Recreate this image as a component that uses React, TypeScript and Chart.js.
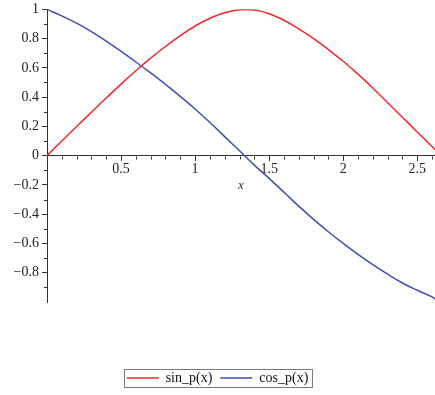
import { useEffect, useRef } from "react";
import { Chart, registerables } from "chart.js";

Chart.register(...registerables);

// x positions where the curves were read
const xValues = [0, 0.1, 0.2, 0.3, 0.4, 0.5, 0.6, 0.7, 0.8, 0.9, 1.0, 1.1, 1.2, 1.3, 1.4, 1.5, 1.6, 1.7, 1.8, 1.9, 2.0, 2.1, 2.2, 2.3, 2.4, 2.5, 2.6, 2.62];
const sinP = [0, 0.1, 0.199, 0.297, 0.394, 0.489, 0.58, 0.666, 0.746, 0.82, 0.886, 0.939, 0.976, 0.997, 0.995, 0.97, 0.925, 0.866, 0.8, 0.725, 0.645, 0.557, 0.462, 0.362, 0.262, 0.162, 0.062, 0.042];
const cosP = [1, 0.955, 0.905, 0.847, 0.782, 0.712, 0.64, 0.565, 0.487, 0.405, 0.319, 0.226, 0.13, 0.033, -0.065, -0.155, -0.25, -0.345, -0.435, -0.52, -0.6, -0.675, -0.745, -0.81, -0.87, -0.92, -0.965, -0.978];

const seriesNames = ["sin_p(x)", "cos_p(x)"];
const seriesColors = ["#f02828", "#3f4fb4"];

const xMajorTicks = [0.5, 1, 1.5, 2, 2.5];
const yMajorTicks = [-0.8, -0.6, -0.4, -0.2, 0, 0.2, 0.4, 0.6, 0.8, 1];

const X_MIN = 0;
const X_MAX = 2.62;
const Y_MIN = -1;
const Y_MAX = 1;

const tenth = (v: number) => Math.round(v * 10);
const isMajorX = (v: number) => xMajorTicks.some((t) => tenth(t) === tenth(v));
const isMajorY = (v: number) => yMajorTicks.some((t) => tenth(t) === tenth(v));
const fmt = (v: number) => {
  const r = Math.round(v * 10) / 10;
  return r < 0 ? "\u2212" + String(-r) : String(r);
};

const AXIS_COLOR = "#333333";
const FONT = '"Liberation Serif", "Times New Roman", serif';

const minorTicksPlugin = {
  id: "minorTicks",
  afterDraw(chart: any) {
    const ctx = chart.ctx;
    const xs = chart.scales.x;
    const ys = chart.scales.y;
    const y0 = Math.round(ys.getPixelForValue(0)) + 0.5;
    const left = chart.chartArea.left;
    ctx.save();
    ctx.strokeStyle = AXIS_COLOR;
    ctx.lineWidth = 1;
    ctx.beginPath();
    for (const t of xs.ticks) {
      if (isMajorX(t.value) || tenth(t.value) === 0) continue;
      const px = Math.round(xs.getPixelForValue(t.value)) + 0.5;
      ctx.moveTo(px, y0);
      ctx.lineTo(px, y0 + 3);
    }
    for (const t of ys.ticks) {
      if (isMajorY(t.value) || tenth(t.value) === -10) continue;
      const py = Math.round(ys.getPixelForValue(t.value)) + 0.5;
      ctx.moveTo(left - 3, py);
      ctx.lineTo(left, py);
    }
    ctx.stroke();
    // legend frame
    const lg = chart.legend;
    const hb = lg && lg.legendHitBoxes;
    if (hb && hb.length) {
      const l = hb[0].left - 3;
      const last = hb[hb.length - 1];
      const r = last.left + last.width + 3;
      const top = hb[0].top - 2;
      const bottom = hb[0].top + hb[0].height + 2;
      ctx.strokeStyle = "#7a7a7a";
      ctx.strokeRect(Math.round(l) + 0.5, Math.round(top) + 0.5, Math.round(r - l), Math.round(bottom - top));
    }
    ctx.restore();
  },
};

export default function App() {
  const ref = useRef<HTMLCanvasElement | null>(null);

  useEffect(() => {
    if (!ref.current) return;
    Chart.defaults.font.family = FONT;
    const chart = new Chart(ref.current, {
      type: "line",
      data: {
        datasets: [
          {
            label: seriesNames[0],
            data: xValues.map((x, i) => ({ x, y: sinP[i] })),
            borderColor: seriesColors[0],
            backgroundColor: seriesColors[0],
            borderWidth: 1.5,
            pointRadius: 0,
            tension: 0.4,
          },
          {
            label: seriesNames[1],
            data: xValues.map((x, i) => ({ x, y: cosP[i] })),
            borderColor: seriesColors[1],
            backgroundColor: seriesColors[1],
            borderWidth: 1.5,
            pointRadius: 0,
            tension: 0.4,
          },
        ],
      },
      options: {
        responsive: false,
        animation: false,
        layout: { padding: 0 },
        plugins: {
          tooltip: { enabled: false },
          legend: {
            position: "bottom",
            title: { display: true, text: "", padding: { top: 49, bottom: 0 }, font: { size: 10, lineHeight: 1.2 } },
            labels: {
              boxWidth: 32,
              boxHeight: 0,
              padding: 8,
              color: "#111",
              font: { family: FONT, size: 14 },
            },
          },
        },
        scales: {
          x: {
            type: "linear",
            position: { y: 0 } as any,
            min: X_MIN,
            max: X_MAX,
            border: { display: true, color: AXIS_COLOR, width: 1 },
            grid: {
              drawOnChartArea: false,
              drawTicks: true,
              tickLength: 5,
              tickColor: (c: any) => (c.tick && isMajorX(c.tick.value) ? AXIS_COLOR : "rgba(0,0,0,0)"),
            },
            ticks: {
              stepSize: 0.1,
              autoSkip: false,
              includeBounds: false,
              maxRotation: 0,
              padding: 2,
              color: "#222",
              font: { family: FONT, size: 14, lineHeight: 0.9 },
              callback: (v: any) => (isMajorX(Number(v)) ? fmt(Number(v)) : ""),
            },
            title: {
              display: true,
              text: "x",
              color: "#333",
              padding: { top: 1, bottom: 0 },
              font: { family: FONT, size: 13, style: "italic" },
            },
          },
          y: {
            type: "linear",
            position: "left",
            min: Y_MIN,
            max: Y_MAX,
            afterFit: (s: any) => {
              s.width = 47;
            },
            border: { display: true, color: AXIS_COLOR, width: 1 },
            grid: {
              drawOnChartArea: false,
              drawTicks: true,
              tickLength: 5,
              tickColor: (c: any) => (c.tick && isMajorY(c.tick.value) ? AXIS_COLOR : "rgba(0,0,0,0)"),
            },
            ticks: {
              stepSize: 0.1,
              autoSkip: false,
              padding: 3,
              color: "#222",
              font: { family: FONT, size: 14, lineHeight: 0.9 },
              callback: (v: any) => (isMajorY(Number(v)) ? fmt(Number(v)) : ""),
            },
          },
        },
      },
      plugins: [minorTicksPlugin],
    } as any);
    return () => chart.destroy();
  }, []);

  return (
    <div style={{ position: "absolute", left: 0, top: 0, width: 435, height: 395, background: "#fff" }}>
      <canvas ref={ref} width={435} height={395} style={{ display: "block" }} />
    </div>
  );
}
